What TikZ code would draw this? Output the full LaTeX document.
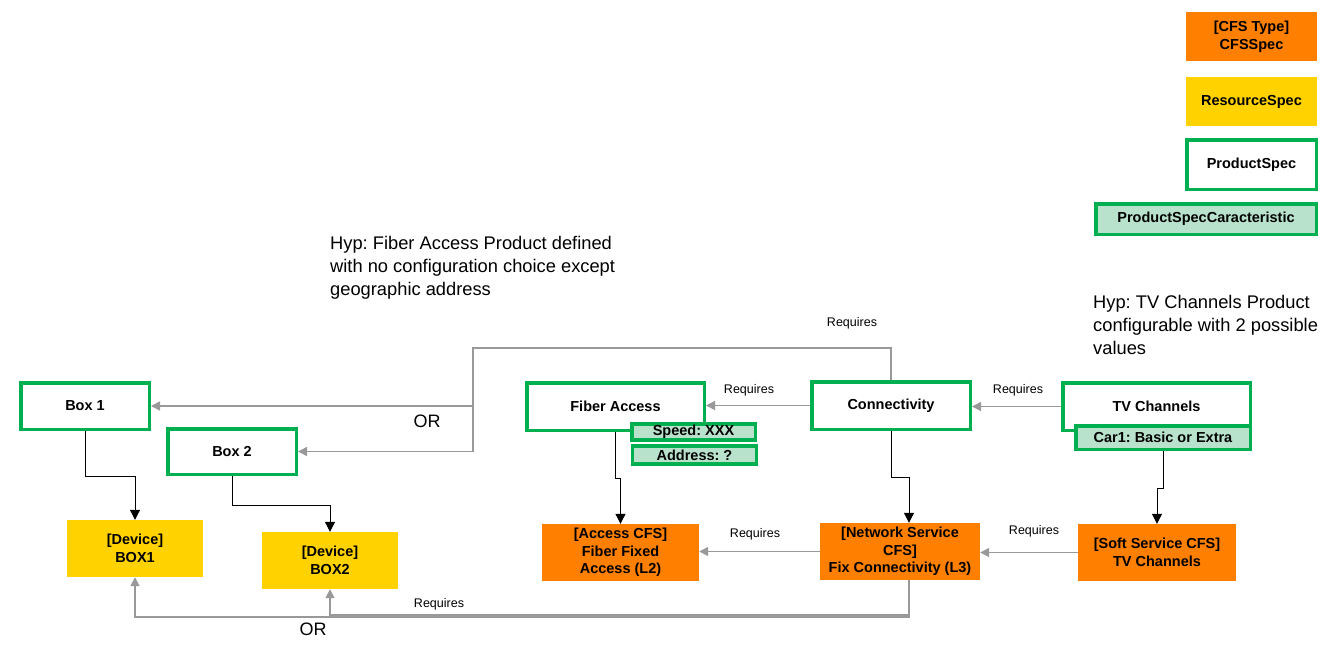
\documentclass[tikz,border=0pt]{standalone}
\usepackage{fontspec}
\setmainfont{Liberation Sans}
\usetikzlibrary{arrows.meta,calc}
\frenchspacing
\definecolor{cfsorange}{HTML}{FF7F00}
\definecolor{resyellow}{HTML}{FFD200}
\definecolor{prodgreen}{HTML}{00B050}
\definecolor{charfill}{HTML}{B8E2CC}
\definecolor{arrgray}{HTML}{999999}
\tikzset{
  lbl/.style={font=\fontsize{14.5}{17.5}\selectfont\bfseries, align=center, inner sep=0pt},
  prod/.style={lbl, draw=prodgreen, line width=3.5pt, fill=white},
  pchar/.style={lbl, draw=prodgreen, line width=3.5pt, fill=charfill},
  cfs/.style={lbl, fill=cfsorange},
  res/.style={lbl, fill=resyellow},
  gry/.style={draw=arrgray, line width=1.5pt, -{Triangle[length=9pt,width=9pt]}},
  blk/.style={draw=black, line width=1pt, -{Triangle[length=10pt,width=10pt]}},
  req/.style={font=\fontsize{12.5}{14}\selectfont, inner sep=0pt},
  ortxt/.style={font=\fontsize{18}{20}\selectfont, inner sep=0pt},
  hyp/.style={font=\fontsize{18.3}{23}\selectfont, align=left, inner sep=0pt, anchor=north west}
}
\begin{document}
\begin{tikzpicture}[x=1pt,y=-1pt]
\useasboundingbox[fill=white] (0,0) rectangle (1323,654);
% legend
\node[cfs, minimum width=131pt, minimum height=49pt] (lcfs) at (1251.5,36.5) {[CFS Type]\\CFSSpec};
\node[res, minimum width=131pt, minimum height=49pt] (lres) at (1251.5,101.5) {ResourceSpec};
\node[prod, minimum width=129.5pt, minimum height=49.5pt] (lprod) at (1251.5,164.5) {ProductSpec};
\node[pchar, minimum width=220.5pt, minimum height=30.5pt] (lchar) at (1206,219) {ProductSpecCaracteristic};
% hypotheses
\node[hyp] (hyp1) at (330,236.5) {Hyp: Fiber Access Product defined\\with no configuration choice except\\geographic address};
\node[hyp] (hyp2) at (1093,295.5) {Hyp: TV Channels Product\\configurable with 2 possible\\values};
% products
\node[prod, minimum width=128.5pt, minimum height=46.5pt] (box1) at (85,406) {Box 1};
\node[prod, minimum width=128.5pt, minimum height=45.5pt] (box2) at (232,451.5) {Box 2};
\node[prod, minimum width=177.5pt, minimum height=47.5pt] (fiber) at (615.5,406.5) {Fiber Access};
\node[prod, minimum width=158.5pt, minimum height=47.5pt] (conn) at (891,405.5) {Connectivity};
\node[prod, minimum width=187.5pt, minimum height=47.5pt] (tv) at (1156.5,406.5) {TV Channels};
\node[pchar, minimum width=123.5pt, minimum height=16pt] (speed) at (693.5,432) {Speed: XXX};
\node[pchar, minimum width=124pt, minimum height=18pt] (addr) at (694.5,455) {Address: ?};
\node[pchar, minimum width=174.5pt, minimum height=23.5pt] (car1) at (1163,437.5) {Car1: Basic or Extra};
% resources / cfs
\node[res, minimum width=136pt, minimum height=57pt] (dbox1) at (135,548.5) {[Device]\\BOX1};
\node[res, minimum width=136pt, minimum height=57pt] (dbox2) at (330,560.5) {[Device]\\BOX2};
\node[cfs, minimum width=157pt, minimum height=57pt] (acfs) at (620.5,552.5) {[Access CFS]\\Fiber Fixed\\Access (L2)};
\node[cfs, minimum width=160pt, minimum height=57pt] (ncfs) at (900,551.5) {[Network Service\\CFS]\\Fix Connectivity (L3)};
\node[cfs, minimum width=158pt, minimum height=57pt] (soft) at (1157,552.5) {[Soft Service CFS]\\TV Channels};
% black arrows
\draw[blk] (box1.south) -- ++(0,45) -| (dbox1.north);
\draw[blk] (box2.south) -- ++(0,29) -| (dbox2.north);
\draw[blk] (fiber.south) -- ++(0,46) -| (acfs.north);
\draw[blk] (conn.south) -- ++(0,46) -| ([xshift=9pt]ncfs.north);
\draw[blk] (car1.south) -- ++(0,37) -| (soft.north);
% gray arrows
\coordinate (j) at (473,348);
\draw[gry] (conn.north) |- (j) |- (box1.east);
\draw[gry] (j) |- (box2.east);
\draw[gry] (conn.west) -- (conn.west -| fiber.east);
\draw[gry] (tv.west) -- (tv.west -| conn.east);
\draw[gry] (ncfs.west) -- (ncfs.west -| acfs.east);
\draw[gry] (soft.west) -- (soft.west -| ncfs.east);
\coordinate (nb) at ([xshift=9pt]ncfs.south);
\coordinate (yb1) at (0,617);
\coordinate (yb2) at (0,615);
\draw[gry] (nb) -- (nb |- yb1) -| (dbox1.south);
\draw[gry] (nb) -- (nb |- yb2) -| (dbox2.south);
% labels
\node[req] (r1) at (852,323) {Requires};
\node[req] (r2) at (749,390) {Requires};
\node[req] (r3) at (1018,390) {Requires};
\node[req] (r4) at (755,534) {Requires};
\node[req] (r5) at (1034,531) {Requires};
\node[req] (r6) at (439,604) {Requires};
\node[ortxt] (or1) at (427,421) {OR};
\node[ortxt] (or2) at (313,629) {OR};
\end{tikzpicture}
\end{document}
